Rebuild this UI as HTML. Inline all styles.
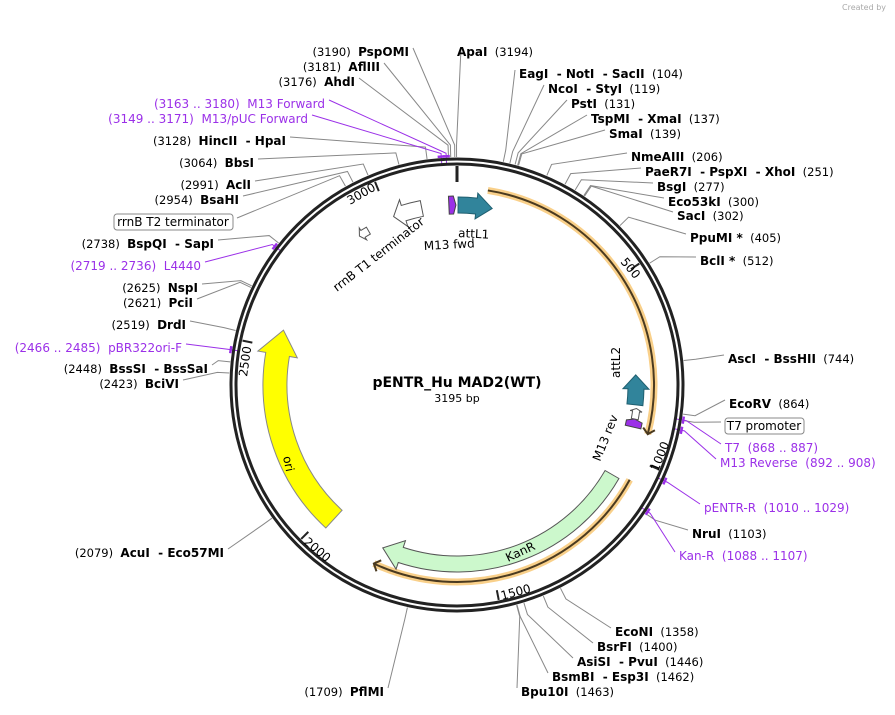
<!DOCTYPE html>
<html><head><meta charset="utf-8"><style>
body{margin:0;background:#fff;width:895px;height:710px;overflow:hidden}
svg{font-family:"DejaVu Sans","Liberation Sans",sans-serif;font-size:12px}
text{white-space:pre}
.b{font-weight:bold}
.p{fill:#9b30e8}
.n{font-size:11.5px}
</style></head><body>
<svg id="s" width="895" height="710" viewBox="0 0 895 710" xmlns="http://www.w3.org/2000/svg" xml:space="preserve">
<g id="lines" fill="none" stroke="#888" stroke-width="1"></g>
<circle cx="457" cy="385" r="226" fill="none" stroke="#222" stroke-width="3"/>
<circle cx="457" cy="385" r="221" fill="none" stroke="#222" stroke-width="3"/>
<g id="feat"></g>
<text x="842" y="10" font-size="8" fill="#aaa">Created by</text>
<text x="457" y="387" text-anchor="middle" class="b" font-size="14">pENTR_Hu MAD2(WT)</text>
<text x="457" y="402" text-anchor="middle" font-size="11">3195 bp</text>
<g text-anchor="end">
<text x="409" y="56"><tspan class="n">(3190)  </tspan><tspan class="b">PspOMI</tspan></text>
<text x="380" y="71"><tspan class="n">(3181)  </tspan><tspan class="b">AflIII</tspan></text>
<text x="355" y="86"><tspan class="n">(3176)  </tspan><tspan class="b">AhdI</tspan></text>
<text x="325" y="108" class="p">(3163 .. 3180)  M13 Forward</text>
<text x="308" y="123" class="p">(3149 .. 3171)  M13/pUC Forward</text>
<text x="286" y="145"><tspan class="n">(3128)  </tspan><tspan class="b">HincII  - HpaI</tspan></text>
<text x="254" y="167"><tspan class="n">(3064)  </tspan><tspan class="b">BbsI</tspan></text>
<text x="251" y="189"><tspan class="n">(2991)  </tspan><tspan class="b">AclI</tspan></text>
<text x="239" y="204"><tspan class="n">(2954)  </tspan><tspan class="b">BsaHI</tspan></text>
<text x="214" y="248"><tspan class="n">(2738)  </tspan><tspan class="b">BspQI  - SapI</tspan></text>
<text x="201" y="270" class="p">(2719 .. 2736)  L4440</text>
<text x="198" y="292"><tspan class="n">(2625)  </tspan><tspan class="b">NspI</tspan></text>
<text x="193" y="307"><tspan class="n">(2621)  </tspan><tspan class="b">PciI</tspan></text>
<text x="186" y="329"><tspan class="n">(2519)  </tspan><tspan class="b">DrdI</tspan></text>
<text x="182" y="352" class="p">(2466 .. 2485)  pBR322ori-F</text>
<text x="208" y="373"><tspan class="n">(2448)  </tspan><tspan class="b">BssSI  - BssSaI</tspan></text>
<text x="179" y="388"><tspan class="n">(2423)  </tspan><tspan class="b">BciVI</tspan></text>
<text x="224" y="557"><tspan class="n">(2079)  </tspan><tspan class="b">AcuI  - Eco57MI</tspan></text>
<text x="384" y="696"><tspan class="n">(1709)  </tspan><tspan class="b">PflMI</tspan></text>
</g>
<rect x="114" y="214" width="119" height="16" rx="3" fill="#fff" stroke="#888"/>
<text x="173" y="226" text-anchor="middle">rrnB T2 terminator</text>
<g>
<text x="457" y="56"><tspan class="b">ApaI</tspan><tspan class="n">  (3194)</tspan></text>
<text x="519" y="78"><tspan class="b">EagI  - NotI  - SacII</tspan><tspan class="n">  (104)</tspan></text>
<text x="548" y="93"><tspan class="b">NcoI  - StyI</tspan><tspan class="n">  (119)</tspan></text>
<text x="571" y="108"><tspan class="b">PstI</tspan><tspan class="n">  (131)</tspan></text>
<text x="591" y="123"><tspan class="b">TspMI  - XmaI</tspan><tspan class="n">  (137)</tspan></text>
<text x="609" y="138"><tspan class="b">SmaI</tspan><tspan class="n">  (139)</tspan></text>
<text x="631" y="161"><tspan class="b">NmeAIII</tspan><tspan class="n">  (206)</tspan></text>
<text x="645" y="176"><tspan class="b">PaeR7I  - PspXI  - XhoI</tspan><tspan class="n">  (251)</tspan></text>
<text x="657" y="191"><tspan class="b">BsgI</tspan><tspan class="n">  (277)</tspan></text>
<text x="668" y="206"><tspan class="b">Eco53kI</tspan><tspan class="n">  (300)</tspan></text>
<text x="677" y="220"><tspan class="b">SacI</tspan><tspan class="n">  (302)</tspan></text>
<text x="690" y="242"><tspan class="b">PpuMI *</tspan><tspan class="n">  (405)</tspan></text>
<text x="700" y="265"><tspan class="b">BclI *</tspan><tspan class="n">  (512)</tspan></text>
<text x="728" y="363"><tspan class="b">AscI  - BssHII</tspan><tspan class="n">  (744)</tspan></text>
<text x="729" y="408"><tspan class="b">EcoRV</tspan><tspan class="n">  (864)</tspan></text>
<text x="725" y="452" class="p">T7  (868 .. 887)</text>
<text x="720" y="467" class="p">M13 Reverse  (892 .. 908)</text>
<text x="704" y="512" class="p">pENTR-R  (1010 .. 1029)</text>
<text x="692" y="538"><tspan class="b">NruI</tspan><tspan class="n">  (1103)</tspan></text>
<text x="679" y="560" class="p">Kan-R  (1088 .. 1107)</text>
<text x="615" y="636"><tspan class="b">EcoNI</tspan><tspan class="n">  (1358)</tspan></text>
<text x="597" y="651"><tspan class="b">BsrFI</tspan><tspan class="n">  (1400)</tspan></text>
<text x="577" y="666"><tspan class="b">AsiSI  - PvuI</tspan><tspan class="n">  (1446)</tspan></text>
<text x="552" y="681"><tspan class="b">BsmBI  - Esp3I</tspan><tspan class="n">  (1462)</tspan></text>
<text x="521" y="696"><tspan class="b">Bpu10I</tspan><tspan class="n">  (1463)</tspan></text>
</g>
<rect x="725" y="418" width="79" height="16" rx="3" fill="#fff" stroke="#888"/>
<text x="764" y="430" text-anchor="middle">T7 promoter</text>
<text x="458" y="237" transform="rotate(3 458 237)">attL1</text>
<text x="424" y="250" transform="rotate(-3 424 250)">M13 fwd</text>
<text x="337" y="292" transform="rotate(-38 337 292)">rrnB T1 terminator</text>
<text x="620" y="378" transform="rotate(-90 620 378)">attL2</text>
<text x="600" y="462" transform="rotate(-68 600 462)">M13 rev</text>
<text x="508" y="562" transform="rotate(-25 508 562)">KanR</text>
<text x="283" y="457" transform="rotate(78 283 457)">ori</text>
<text x="620" y="262" transform="rotate(50 620 262)">500</text>
<text x="658" y="472" transform="rotate(-68 658 472)">1000</text>
<text x="502" y="600" transform="rotate(-15 502 600)">1500</text>
<text x="303" y="543" transform="rotate(40 303 543)">2000</text>
<text x="247" y="377" transform="rotate(-82 247 377)">2500</text>
<text x="350" y="205" transform="rotate(-30 350 205)">3000</text>
</svg>
<script>
var C=[457,385],N=3195,NS="http://www.w3.org/2000/svg";
function pt(bp,r){var t=bp/N*2*Math.PI;return[C[0]+r*Math.sin(t),C[1]-r*Math.cos(t)];}
function el(tag,a,par){var e=document.createElementNS(NS,tag);for(var k in a)e.setAttribute(k,a[k]);document.getElementById(par).appendChild(e);return e;}
function arcD(a,b,r){var p=pt(a,r),q=pt(b,r);var large=(((b-a)+N)%N)>N/2?1:0;var sw=b>a?1:0;return"M"+p+" A"+r+","+r+" 0 "+large+","+sw+" "+q;}
[500,1000,1500,2000,2500,3000].forEach(function(b){var p=pt(b,219),q=pt(b,209);el("line",{x1:p[0],y1:p[1],x2:q[0],y2:q[1],stroke:"#222","stroke-width":2},"feat");});
var p0=pt(0,219),q0=pt(0,203);el("line",{x1:p0[0],y1:p0[1],x2:q0[0],y2:q0[1],stroke:"#222","stroke-width":3},"feat");
var L=[[3190,409,52],[3194,457,52],[3181,380,67],[3176,355,82],[3128,286,141],[3064,254,163],[2991,251,185],[2954,239,200],[2935,233,222],[2738,214,244],[2625,198,288],[2621,193,303],[2519,186,325],[2448,208,369],[2423,179,384],[2079,224,553],[1709,384,692],
[104,519,74],[119,548,89],[131,571,104],[137,591,119],[139,609,134],[206,631,157],[251,645,172],[277,657,187],[300,668,202],[302,677,216],[405,690,238],[512,700,261],[744,728,359],[864,729,404],[878,725,426],[1103,692,534],[1358,615,632],[1400,597,647],[1446,577,662],[1462,552,677],[1463,521,692]];
L.forEach(function(l){var a=pt(l[0],228),b=pt(l[0],240);var right=l[0]<1600;var x=right?l[1]-4:l[1]+4;var y=l[2]-4;el("polyline",{points:x+","+y+" "+b+" "+a},"lines");});
var P=[[3171,325,104],[3160,308,119],[2727,201,266],[2475,182,348],[877,725,448],[900,720,463],[1019,704,508],[1097,679,556]];
P.forEach(function(l){var a=pt(l[0],222),b=pt(l[0],232);var right=l[0]<1600;var x=right?l[1]-4:l[1]+4;el("polyline",{points:x+","+(l[2]-4)+" "+b+" "+a,stroke:"#9b30e8"},"lines");
var c=pt(l[0]-8,229),d=pt(l[0]+8,229);el("line",{x1:c[0],y1:c[1],x2:d[0],y2:d[1],stroke:"#9b30e8","stroke-width":2.5},"feat");});
function orf(a,b,r){el("path",{d:arcD(a,b,r),fill:"none",stroke:"#f9d08a","stroke-width":7},"feat");el("path",{d:arcD(a,b,r),fill:"none",stroke:"#4a3a20","stroke-width":2},"feat");
var t=pt(b,r),u=pt(b-14,r-6),v=pt(b-14,r+6);el("polyline",{points:u+" "+t+" "+v,fill:"none",stroke:"#4a3a20","stroke-width":2},"feat");}
orf(80,927,197);orf(1054,1819,197);
function arrow(a,b,r,w,hw,hl,fill,stroke){var dir=b>a?1:-1;var hs=b-dir*hl;var r1=r+w/2,r2=r-w/2;
var d="M"+pt(a,r1)+" A"+r1+","+r1+" 0 0,"+(dir>0?1:0)+" "+pt(hs,r1)+" L"+pt(hs,r+hw/2)+" L"+pt(b,r)+" L"+pt(hs,r-hw/2)+" L"+pt(hs,r2)+" A"+r2+","+r2+" 0 0,"+(dir>0?0:1)+" "+pt(a,r2)+"Z";
el("path",{d:d,fill:fill,stroke:stroke,"stroke-width":1},"feat");}
arrow(1065,1815,179,16,30,55,"#ccf8cc","#555");
arrow(1975,2552,182,24,40,70,"#ffff00","#888");
arrow(3,100,180,16,26,45,"#31849b","#1f5f70");
arrow(855,770,179,16,26,40,"#31849b","#1f5f70");
arrow(3095,3012,180,16,28,30,"#fff","#555");
arrow(2930,2900,178,8,14,12,"#fff","#555");
arrow(3172,3192,180,18,18,7,"#9b30e8","#444");
arrow(918,895,181,16,16,7,"#9b30e8","#444");
arrow(895,865,181,7,12,8,"#fff","#555");
</script>
</body></html>
